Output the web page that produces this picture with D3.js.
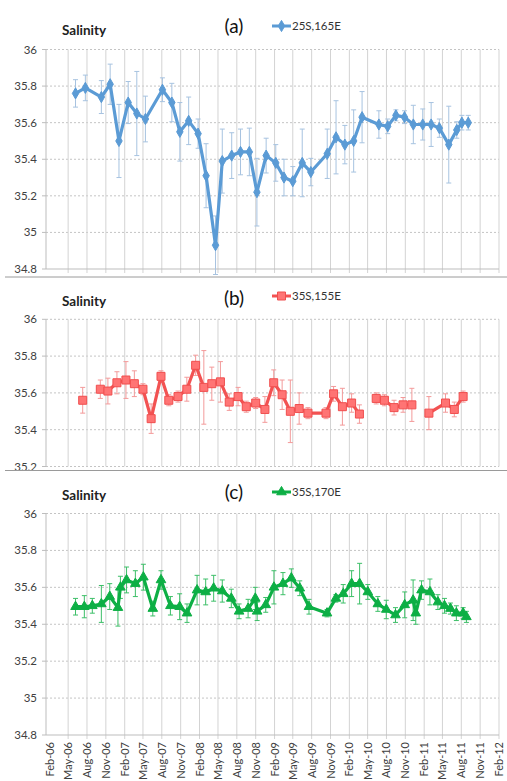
<!DOCTYPE html>
<html>
<head>
<meta charset="utf-8">
<script src="https://cdn.jsdelivr.net/npm/d3@7/dist/d3.min.js"></script>
<style>
  body { margin: 0; background: #fff; }
  svg { display: block; font-family: Lato, "Open Sans", "Liberation Sans", sans-serif; }
</style>
</head>
<body>
<svg id="chart" width="507" height="781"></svg>
<script>
// ---------- data ----------
// (a) 25S,165E
const datesA = ["2006-06-06","2006-07-24","2006-10-10","2006-11-22","2007-01-04","2007-02-18","2007-04-01","2007-05-13",
  "2007-08-04","2007-09-19","2007-10-28","2007-12-10","2008-01-25","2008-03-04","2008-04-19","2008-05-22","2008-07-07",
  "2008-08-19","2008-10-01","2008-11-07","2008-12-22","2009-02-07","2009-03-19","2009-05-01","2009-06-16","2009-07-28",
  "2009-10-16","2009-11-28","2010-01-10","2010-02-22","2010-04-04","2010-06-25","2010-08-07","2010-09-16","2010-10-28",
  "2010-12-10","2011-01-25","2011-03-07","2011-04-16","2011-06-01","2011-07-10","2011-08-04","2011-09-04"];
const valuesA = [35.76,35.79,35.74,35.81,35.50,35.71,35.65,35.62,35.78,35.71,35.55,35.61,35.54,35.31,34.93,35.39,35.42,
  35.44,35.44,35.22,35.42,35.38,35.30,35.28,35.38,35.33,35.43,35.52,35.48,35.50,35.63,35.59,35.58,35.64,35.63,
  35.59,35.59,35.59,35.57,35.48,35.56,35.60,35.60];
const errA = [0.075,0.07,0.09,0.11,0.20,0.115,0.23,0.125,0.065,0.105,0.16,0.13,0.08,0.175,0.16,0.175,0.125,
  0.125,0.13,0.185,0.095,0.10,0.10,0.08,0.185,0.075,0.135,0.20,0.105,0.17,0.14,0.075,0.04,0.03,0.035,
  0.105,0.085,0.12,0.05,0.21,0.045,0.04,0.04];

// (b) 35S,155E  (null = no sample, the line breaks there)
const datesB = ["2006-07-11","2006-08-20","2006-10-05","2006-11-11","2006-12-25","2007-02-07","2007-03-20","2007-05-01",
  "2007-06-10","2007-07-28","2007-09-04","2007-10-19","2007-12-01","2008-01-13","2008-02-22","2008-04-01","2008-05-13",
  "2008-06-25","2008-08-07","2008-09-16","2008-11-01","2008-12-16","2009-01-28","2009-03-10","2009-04-19","2009-06-01",
  "2009-07-14","2009-10-10","2009-11-16","2009-12-29","2010-02-12","2010-03-22","2010-05-01","2010-06-12","2010-07-22",
  "2010-09-07","2010-10-21","2010-12-03","2011-01-12","2011-02-24","2011-05-16","2011-06-28","2011-08-10"];
const valuesB = [35.56,null,35.62,35.61,35.655,35.67,35.65,35.62,35.46,35.69,35.56,35.58,35.62,35.75,35.63,35.65,35.66,
  35.55,35.58,35.525,35.545,35.51,35.655,35.59,35.50,35.515,35.49,35.49,35.595,35.525,35.545,35.485,null,35.57,35.56,
  35.52,35.535,35.535,null,35.49,35.545,35.51,35.58];
const errB = [0.07,0,0.05,0.07,0.06,0.10,0.07,0.03,0.08,0.03,0.03,0.03,0.065,0.055,0.20,0.09,0.11,
  0.045,0.05,0.03,0.03,0.07,0.07,0.08,0.17,0.085,0.03,0.03,0.04,0.10,0.05,0.05,0,0.03,0.03,
  0.04,0.04,0.09,0,0.09,0.05,0.04,0.03];

// (c) 35S,170E
const datesC = ["2006-06-06","2006-07-19","2006-08-27","2006-10-10","2006-11-20","2006-12-30","2007-01-11","2007-02-10",
  "2007-03-25","2007-05-03","2007-06-18","2007-07-28","2007-09-12","2007-10-27","2007-12-02","2008-01-20","2008-03-02",
  "2008-04-10","2008-05-22","2008-07-05","2008-08-12","2008-09-25","2008-10-30","2008-11-08","2008-12-20","2009-01-29",
  "2009-03-14","2009-04-24","2009-06-04","2009-07-19","2009-10-15","2009-11-27","2010-01-02","2010-02-12","2010-03-23",
  "2010-05-02","2010-06-20","2010-07-31","2010-09-14","2010-10-29","2010-12-09","2010-12-22","2011-01-19","2011-03-01",
  "2011-04-09","2011-05-11","2011-06-09","2011-07-08","2011-08-10","2011-08-26"];
const valuesC = [35.495,35.495,35.50,35.51,35.55,35.49,35.60,35.64,35.62,35.655,35.485,35.64,35.50,35.495,35.46,35.585,35.575,
  35.595,35.58,35.54,35.47,35.485,35.54,35.47,35.505,35.60,35.62,35.65,35.595,35.495,35.46,35.54,35.565,35.62,35.62,
  35.575,35.51,35.48,35.45,35.505,35.53,35.46,35.585,35.575,35.52,35.50,35.485,35.46,35.46,35.44];
const errC = [0.045,0.06,0.04,0.10,0.07,0.10,0.06,0.07,0.07,0.07,0.04,0.05,0.05,0.07,0.05,0.08,0.07,
  0.07,0.06,0.05,0.04,0.05,0.06,0.05,0.04,0.09,0.06,0.05,0.04,0.04,0.02,0.02,0.05,0.07,0.11,
  0.04,0.04,0.05,0.04,0.07,0.11,0.06,0.05,0.07,0.04,0.04,0.03,0.04,0.03,0.03];

const seriesNames = ["25S,165E", "35S,155E", "35S,170E"];
const panelLabels = ["(a)", "(b)", "(c)"];
const yTitle = "Salinity";
const yTicksFull = [34.8, 35, 35.2, 35.4, 35.6, 35.8, 36];
const yTicksB = [35.2, 35.4, 35.6, 35.8, 36];
const xTickStart = "2006-02-01", xTickEnd = "2012-02-01";

// ---------- layout ----------
const parse = d3.timeParse("%Y-%m-%d");
const fmt = d3.timeFormat("%b-%y");
const svg = d3.select("#chart");

const x = d3.scaleTime()
  .domain([parse("2006-01-13"), parse(xTickEnd)])
  .range([46, 499]);
// quarterly ticks starting in February
const xTicks = d3.timeMonth.range(parse(xTickStart), d3.timeDay.offset(parse(xTickEnd), 1), 3);

const panels = [
  { dates: datesA, values: valuesA, err: errA, domain: [34.8, 36], ticks: yTicksFull, top: 49.5, bottom: 269,
    clipBottom: 277, color: "#5B9BD5", errColor: "#A7C3E0", markerFill: "#5B9BD5", markerStroke: "#5B9BD5",
    symbol: d3.symbolDiamond, symSize: 36, titleY: 35, labelY: 33, legendY: 26, sep: 277 },
  { dates: datesB, values: valuesB, err: errB, domain: [35.2, 36], ticks: yTicksB, top: 319.3, bottom: 466.5,
    clipBottom: 470, color: "#F25252", errColor: "#F39A9A", markerFill: "#FF7474", markerStroke: "#F04E4E",
    symbol: d3.symbolSquare, symSize: 64, titleY: 306, labelY: 305, legendY: 296, sep: 470.5 },
  { dates: datesC, values: valuesC, err: errC, domain: [34.8, 36], ticks: yTicksFull, top: 513.5, bottom: 735,
    clipBottom: 781, color: "#0DAF45", errColor: "#3DBF68", markerFill: "#0DAF45", markerStroke: "#0DAF45",
    symbol: d3.symbolTriangle, symSize: 40, titleY: 500, labelY: 499, legendY: 492, sep: null }
];

panels.forEach((p, i) => {
  const y = d3.scaleLinear().domain(p.domain).range([p.bottom, p.top]);
  const clipId = "clip" + i;
  svg.append("clipPath").attr("id", clipId)
    .append("rect").attr("x", 0).attr("y", p.top - 30).attr("width", 507).attr("height", p.clipBottom - p.top + 30);
  const g = svg.append("g").attr("clip-path", `url(#${clipId})`);

  // horizontal dotted gridlines
  g.selectAll(".hgrid").data(p.ticks.filter(t => t !== p.domain[0] || i === 1)).join("line")
    .attr("x1", 46).attr("x2", 499)
    .attr("y1", d => y(d)).attr("y2", d => y(d))
    .attr("stroke", "#c4c4c4").attr("stroke-width", 1).attr("stroke-dasharray", "2,2");

  // vertical gridlines at each quarter
  g.selectAll(".vgrid").data(xTicks.slice(1)).join("line")
    .attr("x1", d => x(d)).attr("x2", d => x(d))
    .attr("y1", p.top).attr("y2", p.bottom + (i === 1 ? 0 : 4))
    .attr("stroke", "#d3d3d3").attr("stroke-width", 1);

  // value axis line + ticks
  g.append("line").attr("x1", 46).attr("x2", 46).attr("y1", p.top).attr("y2", p.bottom)
    .attr("stroke", "#bdbdbd");
  g.selectAll(".ytick").data(p.ticks).join("line")
    .attr("x1", 42).attr("x2", 46).attr("y1", d => y(d)).attr("y2", d => y(d))
    .attr("stroke", "#bdbdbd");
  g.selectAll(".ylab").data(p.ticks).join("text")
    .attr("x", 37).attr("y", d => y(d)).attr("dy", "0.35em")
    .attr("text-anchor", "end").attr("font-size", 11.5).attr("fill", "#404040")
    .text(d => d3.format("")(d));

  // time axis line
  if (i !== 1) {
    g.append("line").attr("x1", 46).attr("x2", 499).attr("y1", p.bottom).attr("y2", p.bottom)
      .attr("stroke", "#bdbdbd");
  }

  // series
  const data = p.dates.map((d, k) => ({ date: parse(d), v: p.values[k], e: p.err[k] }));
  const pts = data.filter(d => d.v !== null);

  const plot = g.append("g");
  // error bars
  const eb = plot.selectAll(".eb").data(pts).join("g").attr("stroke", p.errColor).attr("stroke-width", 1);
  eb.append("line")
    .attr("x1", d => x(d.date)).attr("x2", d => x(d.date))
    .attr("y1", d => y(d.v - d.e)).attr("y2", d => y(d.v + d.e));
  eb.append("line")
    .attr("x1", d => x(d.date) - 2.5).attr("x2", d => x(d.date) + 2.5)
    .attr("y1", d => y(d.v + d.e)).attr("y2", d => y(d.v + d.e));
  eb.append("line")
    .attr("x1", d => x(d.date) - 2.5).attr("x2", d => x(d.date) + 2.5)
    .attr("y1", d => y(d.v - d.e)).attr("y2", d => y(d.v - d.e));

  const line = d3.line().defined(d => d.v !== null).x(d => x(d.date)).y(d => y(d.v));
  plot.append("path").datum(data).attr("d", line)
    .attr("fill", "none").attr("stroke", p.color).attr("stroke-width", 3.2)
    .attr("stroke-linejoin", "round").attr("stroke-linecap", "round");

  plot.selectAll(".mk").data(pts).join("path")
    .attr("transform", d => `translate(${x(d.date)},${y(d.v)})`)
    .attr("d", d3.symbol(p.symbol, p.symSize))
    .attr("fill", p.markerFill).attr("stroke", p.markerStroke).attr("stroke-width", 1);

  // titles
  svg.append("text").attr("x", 62).attr("y", p.titleY)
    .attr("font-size", 13.5).attr("font-weight", "bold").attr("fill", "#222").text(yTitle);
  svg.append("text").attr("x", 234).attr("y", p.labelY).attr("text-anchor", "middle")
    .attr("font-size", 19).attr("fill", "#111").text(panelLabels[i]);

  // legend
  const lg = svg.append("g").attr("transform", `translate(272,${p.legendY})`);
  lg.append("line").attr("x1", 0).attr("x2", 19).attr("y1", 0).attr("y2", 0)
    .attr("stroke", p.color).attr("stroke-width", 3);
  lg.append("path").attr("transform", "translate(9.5,0)").attr("d", d3.symbol(p.symbol, p.symSize))
    .attr("fill", p.markerFill).attr("stroke", p.markerStroke);
  lg.append("text").attr("x", 20).attr("y", 0).attr("dy", "0.35em")
    .attr("font-size", 11.5).attr("fill", "#333").text(seriesNames[i]);

  if (p.sep !== null) {
    svg.append("line").attr("x1", 5).attr("x2", 507).attr("y1", p.sep).attr("y2", p.sep)
      .attr("stroke", "#9a9a9a").attr("stroke-width", 1);
  }
});

// month labels under the last panel
const bottomAxisY = panels[2].bottom;
svg.append("g").selectAll("text").data(xTicks).join("text")
  .attr("transform", d => `translate(${x(d) + 4},${bottomAxisY + 7}) rotate(-90)`)
  .attr("text-anchor", "end").attr("font-size", 11).attr("fill", "#404040")
  .text(d => fmt(d));
</script>
</body>
</html>
